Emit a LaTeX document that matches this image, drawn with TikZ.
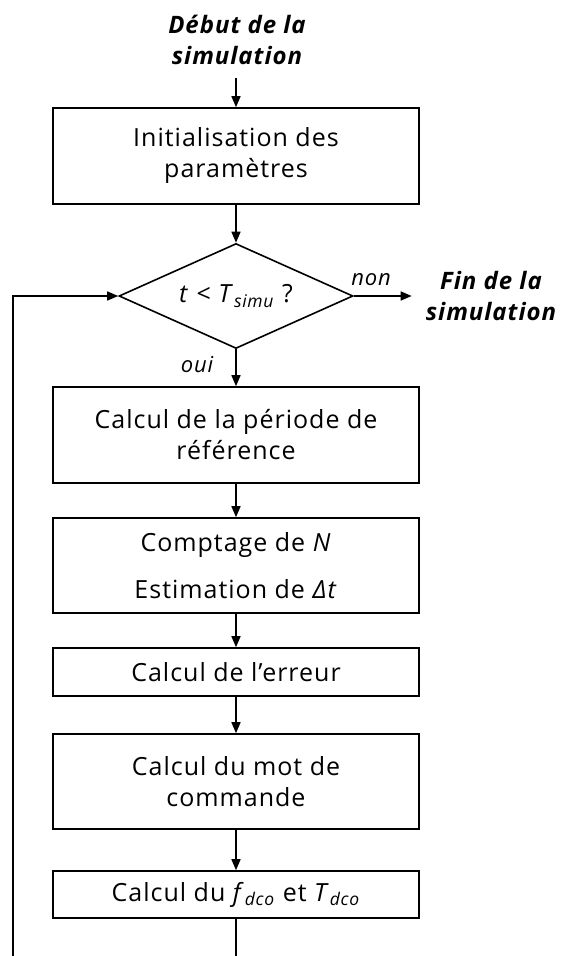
\documentclass[tikz,border=0pt]{standalone}
\usepackage{fontspec}
\setmainfont{Open Sans}[LetterSpace=4]
\usetikzlibrary{shapes.geometric,arrows.meta}
\begin{document}
\begin{tikzpicture}[x=1pt,y=-1pt,
  every node/.style={font=\fontsize{25}{31}\selectfont},
  boxnode/.style={draw,line width=1.6pt,minimum width=366pt,align=center,inner sep=0pt},
  decision/.style={draw,line width=1.6pt,diamond,aspect=2.23,minimum width=234pt,minimum height=105pt,inner sep=0pt},
  termtext/.style={align=center,font=\fontsize{24}{31}\selectfont\bfseries\itshape,inner sep=0pt},
  lbl/.style={font=\fontsize{22}{25}\selectfont\itshape,inner sep=0pt},
  conn/.style={line width=1.6pt,-{Triangle[length=11pt,width=9pt]}},
  plain/.style={line width=1.6pt}]
\useasboundingbox (0,0) rectangle (561,956);
\node[termtext] (start) at (237,40) {Début de la\\simulation};
\coordinate (s0) at (236,78);
\node[boxnode,minimum height=96pt] (b1) at (236,156) {Initialisation des\\paramètres};
\node[decision] (d) at (236,296) {\textit{t} < \textit{T}\textsubscript{\textit{simu}} ?};
\node[termtext,inner xsep=14pt] (fin) at (491,296) {Fin de la\\simulation};
\node[boxnode,minimum height=96pt] (b2) at (236,435) {Calcul de la période de\\référence};
\node[boxnode,minimum height=95pt] (b3) at (236,565.5) {Comptage de \textit{N}\\[16pt]Estimation de \textit{Δt}};
\node[boxnode,minimum height=48pt] (b4) at (236,672) {Calcul de l’erreur};
\node[boxnode,minimum height=95pt] (b5) at (236,781.5) {Calcul du mot de\\commande};
\node[boxnode,minimum height=47pt] (b6) at (236,894.5) {Calcul du \textit{f}\textsubscript{\textit{dco}} et \textit{T}\textsubscript{\textit{dco}}};
\coordinate (bend) at (236,957);
\coordinate (lb) at (13,957);
\draw[conn] (s0) -- (b1);
\draw[conn] (b1) -- (d);
\draw[conn] (d.east) -- node[lbl,pos=0.3,above=10pt] (non) {non} (fin.west);
\draw[conn] (d) -- node[lbl,pos=0.4,left=22pt] (oui) {oui} (b2);
\draw[conn] (b2) -- (b3);
\draw[conn] (b3) -- (b4);
\draw[conn] (b4) -- (b5);
\draw[conn] (b5) -- (b6);
\draw[plain] (b6) -- (bend);
\draw[conn] (lb) |- (d.west);
\end{tikzpicture}
\end{document}
